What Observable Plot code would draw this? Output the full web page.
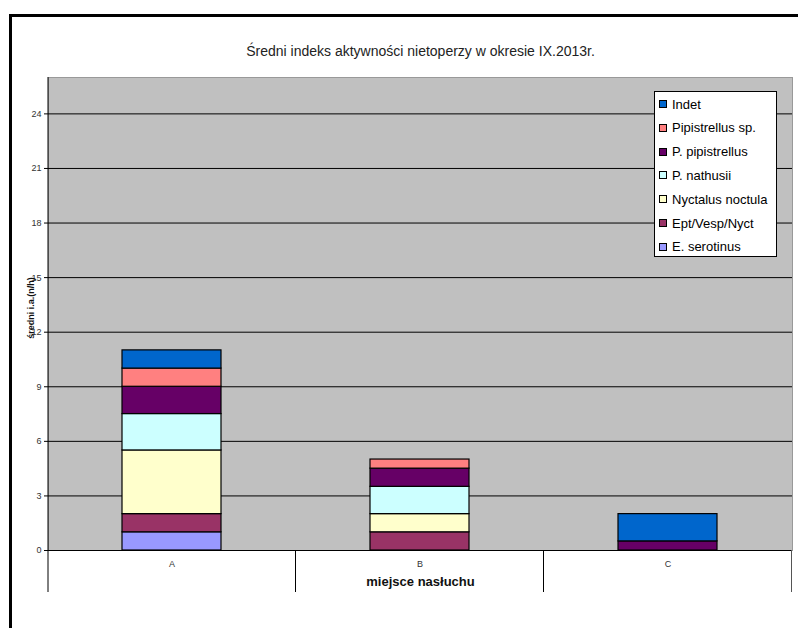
<!DOCTYPE html>
<html>
<head>
<meta charset="utf-8">
<script src="https://cdn.jsdelivr.net/npm/d3@7"></script>
<script src="https://cdn.jsdelivr.net/npm/@observablehq/plot@0.6"></script>
<style>
  body { margin: 0; background: #fff; }
  #wrap { position: relative; width: 798px; height: 628px; overflow: hidden; font-family: "Liberation Sans", Arial, sans-serif; }
  #wrap svg { position: absolute; left: 0; top: 0; }
  #border { position: absolute; left: 9px; top: 14px; width: 900px; height: 900px; border-left: 3px solid #000; border-top: 3px solid #000; }
  #legend { position: absolute; left: 654px; top: 91px; width: 123px; height: 166px; background: #fff; border: 1px solid #000; box-sizing: border-box; }
  .item { position: absolute; left: 4px; height: 16px; display: flex; align-items: center; font-size: 13px; color: #000; white-space: nowrap; }
  .sw { width: 6px; height: 6px; border: 1px solid #000; margin-right: 5px; }
</style>
</head>
<body>
<div id="wrap"></div>
<script>
// Listening sites and bat taxa (stack order: bottom to top)
const sites = ["A", "B", "C"];
const species = ["E. serotinus", "Ept/Vesp/Nyct", "Nyctalus noctula", "P. nathusii", "P. pipistrellus", "Pipistrellus sp.", "Indet"];
const speciesColors = ["#9999ff", "#993366", "#ffffcc", "#ccffff", "#660066", "#ff8080", "#0066cc"];

// Mean activity index (passes per hour) per taxon at each site
const valuesA = [1, 1, 3.5, 2, 1.5, 1, 1];
const valuesB = [0, 1, 1, 1.5, 1, 0.5, 0];
const valuesC = [0, 0, 0, 0, 0.5, 0, 1.5];

const yTicks = [0, 3, 6, 9, 12, 15, 18, 21, 24];
const title = "Średni indeks aktywności nietoperzy w okresie IX.2013r.";
const yLabel = "średni i.a.(n/h)";
const xLabel = "miejsce nasłuchu";

const bySite = [valuesA, valuesB, valuesC];
const rows = [];
sites.forEach((site, i) => {
  species.forEach((sp, j) => {
    if (bySite[i][j] > 0) rows.push({site, species: sp, value: bySite[i][j]});
  });
});

const font = "'Liberation Sans', Arial, sans-serif";

const chart = Plot.plot({
  width: 798,
  height: 628,
  marginLeft: 48,
  marginRight: 6,
  marginTop: 77,
  marginBottom: 78,
  style: {fontFamily: font, fontSize: "9px", color: "#000", background: "transparent"},
  x: {domain: sites, paddingInner: 0.6, paddingOuter: 0.3, axis: null},
  y: {domain: [0, 26], axis: null},
  color: {domain: species, range: speciesColors},
  marks: [
    Plot.frame({fill: "#c0c0c0", stroke: "#999999"}),
    Plot.gridY(yTicks, {stroke: "#000", strokeOpacity: 1, strokeWidth: 1}),
    Plot.barY(rows, {
      x: "site", y: "value", fill: "species", stroke: "#000", strokeWidth: 1.2,
      order: species
    }),
    Plot.axisY(yTicks, {tickSize: 4, tickPadding: 3, fontSize: 9, label: null, stroke: "#000", fill: "#333"}),
    Plot.axisX({tickSize: 0, tickPadding: 10, fontSize: 9, label: null, fill: "#333"}),
    Plot.text([title], {text: d => d, frameAnchor: "top", dy: -31, fontSize: 14, fill: "#222"}),
    Plot.text([xLabel], {text: d => d, frameAnchor: "bottom", dy: 35, fontSize: 13, fontWeight: "bold", fill: "#111"}),
    Plot.text([yLabel], {
      text: d => d, frameAnchor: "left", textAnchor: "middle", dx: -17, dy: -6, rotate: -90,
      fontSize: 9, fontWeight: "bold", fill: "#111"
    })
  ]
});

// Axis line extending into the category band, and separators between categories
const xs = chart.scale("x");
const ys = chart.scale("y");
const y0 = ys.apply(0);
const yTop = ys.apply(26);
const yBottom = y0 + 42;
const g = d3.select(chart).append("g").attr("stroke", "#000").attr("stroke-width", 1);
g.append("line").attr("x1", xs.range[0]).attr("x2", xs.range[0]).attr("y1", yTop).attr("y2", yBottom);
sites.forEach(s => {
  const xb = xs.apply(s) + xs.bandwidth / 2 + xs.step / 2;
  g.append("line").attr("x1", xb).attr("x2", xb).attr("y1", y0).attr("y2", yBottom)
    .attr("stroke", s === sites[sites.length - 1] ? "#555" : "#000");
});

const wrap = document.getElementById("wrap");
wrap.appendChild(chart);

const border = document.createElement("div");
border.id = "border";
wrap.appendChild(border);

// Legend: top entry is the top of the stack
const color = chart.scale("color");
const legend = document.createElement("div");
legend.id = "legend";
species.slice().reverse().forEach((sp, i) => {
  const item = document.createElement("div");
  item.className = "item";
  item.style.top = (4 + i * 23.8) + "px";
  const sw = document.createElement("span");
  sw.className = "sw";
  sw.style.background = color.apply(sp);
  const label = document.createElement("span");
  label.textContent = sp;
  item.appendChild(sw);
  item.appendChild(label);
  legend.appendChild(item);
});
wrap.appendChild(legend);
</script>
</body>
</html>
